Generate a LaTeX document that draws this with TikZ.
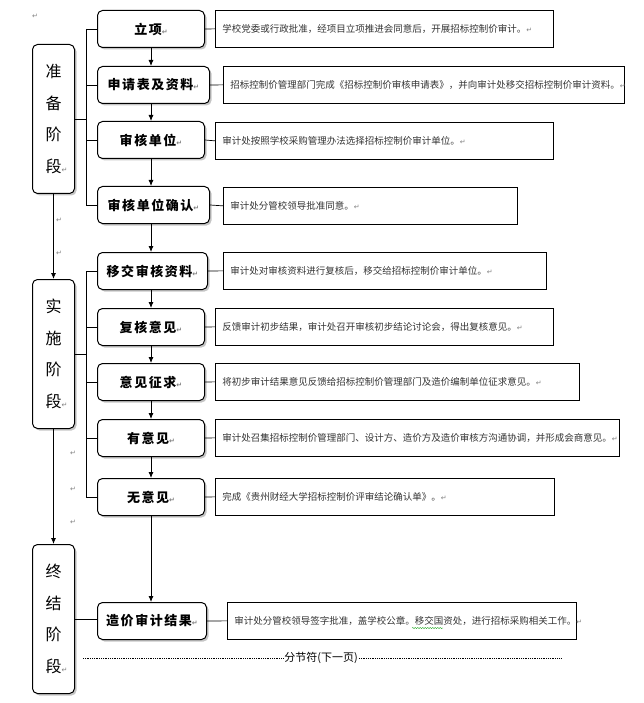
\documentclass[tikz,border=0pt]{standalone}
\usepackage{fontspec}
\setmainfont{Noto Sans CJK SC}
\newfontfamily\stepfont[LetterSpace=12]{Noto Sans CJK SC}
\newfontfamily\symfont{DejaVu Sans}
\usetikzlibrary{arrows.meta,shadows,decorations.pathmorphing}
\newcommand{\pmark}{{\symfont\color{gray}\fontsize{7}{7}\selectfont ↵}}
\tikzset{
 stage/.style={draw, line width=1pt, rounded corners=5pt, fill=white,
  drop shadow={shadow xshift=2pt, shadow yshift=-2pt, fill=black!45},
  minimum width=42pt, minimum height=149pt, inner sep=0pt, anchor=north west,
  font=\fontsize{16}{31.5}\selectfont, align=center},
 stepbox/.style={draw, line width=1pt, rounded corners=5pt, fill=white,
  drop shadow={shadow xshift=2pt, shadow yshift=-2pt, fill=black!45},
  minimum width=#1, minimum height=37pt, inner sep=0pt, anchor=north west,
  font=\stepfont\bfseries\fontsize{13}{13}\selectfont},
 stepbox/.default=107pt,
 descbox/.style={draw, line width=0.7pt, anchor=north west, minimum height=37pt,
  inner xsep=7pt, text width=#1, align=left,
  font=\fontsize{9.5}{9.5}\selectfont, text=black!80},
 link/.style={line width=0.7pt},
 flow/.style={line width=0.8pt, -{Latex[length=6pt,width=5pt]}},
 retmark/.style={inner sep=0pt}
}
\begin{document}
\begin{tikzpicture}[x=1pt,y=-1pt]
\useasboundingbox (0,0) rectangle (644,703);
\coordinate (j) at (86,0);
\coordinate (ax) at (151,0);
\coordinate (bl) at (83,658);
\coordinate (br) at (562,658);

\node[stage] (prep) at (32,44) {准\\备\\阶\\段\rlap{\pmark}};
\node[stage] (impl) at (32,279) {实\\施\\阶\\段\rlap{\pmark}};
\node[stage] (fin) at (32,544) {终\\结\\阶\\段\rlap{\pmark}};

\node[stepbox] (lixiang) at (97,10) {立项\pmark};
\node[stepbox=112pt] (shenqing) at (97,66) {申请表及资料\pmark};
\node[stepbox] (danwei) at (97,121) {审核单位\pmark};
\node[stepbox=112pt] (queren) at (97,186) {审核单位确认\pmark};
\node[stepbox=110pt] (yijiao) at (97,252) {移交审核资料\pmark};
\node[stepbox] (fuhe) at (97,308) {复核意见\pmark};
\node[stepbox] (zhengqiu) at (97,363) {意见征求\pmark};
\node[stepbox] (you) at (97,419) {有意见\pmark};
\node[stepbox] (wu) at (97,478) {无意见\pmark};
\node[stepbox=109pt] (jieguo) at (97,602) {造价审计结果\pmark};

\node[descbox=324pt] (lixiang-t) at (215,10) {学校党委或行政批准，经项目立项推进会同意后，开展招标控制价审计。\pmark};
\node[descbox=387pt] (shenqing-t) at (223,66) {招标控制价管理部门完成《招标控制价审核申请表》，并向审计处移交招标控制价审计资料。\pmark};
\node[descbox=324pt] (danwei-t) at (215,122) {审计处按照学校采购管理办法选择招标控制价审计单位。\pmark};
\node[descbox=280pt] (queren-t) at (223,187) {审计处分管校领导批准同意。\pmark};
\node[descbox=309pt] (yijiao-t) at (223,252) {审计处对审核资料进行复核后，移交给招标控制价审计单位。\pmark};
\node[descbox=324pt] (fuhe-t) at (215,308) {反馈审计初步结果，审计处召开审核初步结论讨论会，得出复核意见。\pmark};
\node[descbox=350pt] (zhengqiu-t) at (215,363) {将初步审计结果意见反馈给招标控制价管理部门及造价编制单位征求意见。\pmark};
\node[descbox=390pt] (you-t) at (215,419) {审计处召集招标控制价管理部门、设计方、造价方及造价审核方沟通协调，并形成会商意见。\pmark};
\node[descbox=325pt] (wu-t) at (215,478) {完成《贵州财经大学招标控制价评审结论确认单》。\pmark};
\node[descbox=335pt] (jieguo-t) at (227,602) {审计处分管校领导签字批准，盖学校公章。移交国资处，进行招标采购相关工作。\pmark};

\draw[link] (lixiang.east) -- (lixiang-t.west);
\draw[link] (shenqing.east) -- (shenqing-t.west);
\draw[link] (danwei.east) -- (danwei-t.west);
\draw[link] (queren.east) -- (queren-t.west);
\draw[link] (yijiao.east) -- (yijiao-t.west);
\draw[link] (fuhe.east) -- (fuhe-t.west);
\draw[link] (zhengqiu.east) -- (zhengqiu-t.west);
\draw[link] (you.east) -- (you-t.west);
\draw[link] (wu.east) -- (wu-t.west);
\draw[link] (jieguo.east) -- (jieguo-t.west);

\draw[link] (lixiang.west -| j) -- (queren.west -| j);
\draw[link] (prep.east) -- (prep.east -| j);
\draw[link] (lixiang.west -| j) -- (lixiang.west);
\draw[link] (shenqing.west -| j) -- (shenqing.west);
\draw[link] (danwei.west -| j) -- (danwei.west);
\draw[link] (queren.west -| j) -- (queren.west);
\draw[link] (yijiao.west -| j) -- (wu.west -| j);
\draw[link] (impl.east) -- (impl.east -| j);
\draw[link] (yijiao.west -| j) -- (yijiao.west);
\draw[link] (fuhe.west -| j) -- (fuhe.west);
\draw[link] (zhengqiu.west -| j) -- (zhengqiu.west);
\draw[link] (you.west -| j) -- (you.west);
\draw[link] (wu.west -| j) -- (wu.west);
\draw[link] (fin.east) -- (fin.east -| jieguo.west);

\draw[flow] (lixiang.south -| ax) -- (shenqing.north -| ax);
\draw[flow] (shenqing.south -| ax) -- (danwei.north -| ax);
\draw[flow] (danwei.south -| ax) -- (queren.north -| ax);
\draw[flow] (queren.south -| ax) -- (yijiao.north -| ax);
\draw[flow] (yijiao.south -| ax) -- (fuhe.north -| ax);
\draw[flow] (fuhe.south -| ax) -- (zhengqiu.north -| ax);
\draw[flow] (zhengqiu.south -| ax) -- (you.north -| ax);
\draw[flow] (you.south -| ax) -- (wu.north -| ax);
\draw[flow] (wu.south -| ax) -- (jieguo.north -| ax);
\draw[flow] (prep.south) -- (impl.north);
\draw[flow] (impl.south) -- (fin.north);

\node[retmark] (m1) at (35,16) {\pmark};
\node[retmark] (m2) at (59,220) {\pmark};
\node[retmark] (m3) at (59,253) {\pmark};
\node[retmark] (m4) at (73,453) {\pmark};
\node[retmark] (m5) at (73,489) {\pmark};
\node[retmark] (m6) at (73,522) {\pmark};

\node[inner sep=1pt, font=\fontsize{11}{11}\selectfont] (brk) at (321,658) {分节符(下一页)};
\draw[densely dotted, line width=0.8pt] (bl) -- (brk.west);
\draw[densely dotted, line width=0.8pt] (brk.east) -- (br);
\draw[green!60!black, decorate, decoration={snake, amplitude=0.5pt, segment length=2.5pt}] (412,628) -- (443,628);
\end{tikzpicture}
\end{document}
